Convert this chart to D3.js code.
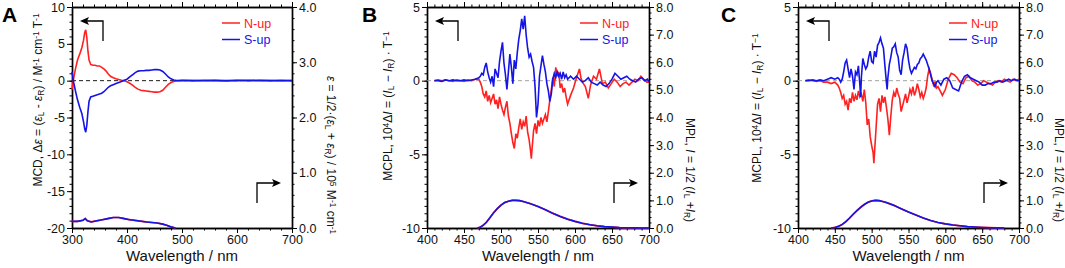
<!DOCTYPE html>
<html>
<head>
<meta charset="utf-8">
<script src="https://cdn.jsdelivr.net/npm/d3@7"></script>
<style>
  body { margin: 0; background: #fff; }
  svg { font-family: "Liberation Sans", Arial, sans-serif; }
</style>
</head>
<body>
<svg id="chart" width="1065" height="268"></svg>
<script>

// ---- panel A : MCD (left axis) and absorption (right axis) ----
var mcdN = [[300,-1.2],[303,0.3],[306,1.5],[310,2.8],[314,3.6],[318,4.5],[321,5.5],[323,6.5],[325,6.9],[327,5.8],[329,4.0],[331,2.8],[334,2.2],[338,2.1],[342,2.1],[346,2.0],[350,2.0],[354,1.8],[358,1.6],[362,1.3],[366,0.9],[370,0.6],[375,0.4],[380,0.25],[385,0.15],[390,0.05],[395,0],[400,-0.15],[405,-0.35],[410,-0.6],[415,-0.9],[420,-1.15],[425,-1.3],[430,-1.35],[435,-1.4],[440,-1.45],[445,-1.5],[450,-1.55],[455,-1.55],[460,-1.5],[465,-1.3],[470,-0.9],[475,-0.5],[480,-0.25],[485,-0.1],[490,-0.05],[500,0],[520,0],[540,-0.05],[560,0],[580,-0.05],[600,0],[620,0.05],[640,0],[660,0],[680,-0.05],[700,0]]
var mcdS = [[300,1.2],[303,-0.2],[306,-1.3],[310,-2.6],[314,-3.6],[318,-4.5],[321,-5.6],[323,-6.5],[325,-7.0],[327,-6.0],[329,-4.2],[331,-2.8],[334,-2.2],[338,-2.1],[342,-2.0],[346,-1.9],[350,-1.8],[354,-1.7],[358,-1.5],[362,-1.2],[366,-0.9],[370,-0.7],[375,-0.55],[380,-0.4],[385,-0.25],[390,-0.1],[395,0.05],[400,0.2],[405,0.5],[410,0.8],[415,1.1],[420,1.3],[425,1.35],[430,1.35],[435,1.4],[440,1.4],[445,1.45],[450,1.5],[455,1.5],[460,1.45],[465,1.25],[470,0.9],[475,0.5],[480,0.25],[485,0.1],[490,0.02],[500,0.05],[520,0],[540,0.05],[560,0.05],[580,0],[600,0.05],[620,0],[640,0.05],[660,0],[680,0.05],[700,0]]
var absA = [[300,0.12],[310,0.12],[320,0.14],[324,0.17],[328,0.13],[335,0.11],[345,0.13],[355,0.15],[365,0.17],[375,0.19],[385,0.19],[395,0.17],[405,0.15],[420,0.13],[435,0.11],[445,0.10],[455,0.09],[465,0.07],[472,0.05],[480,0.02],[488,0]]

// ---- panel B : MCPL (left axis) and MPL (right axis) ----
var mcplBN = [[410,0],[415,0.05],[420,0],[425,0.05],[430,0],[435,-0.05],[440,0.05],[445,0],[450,-0.05],[455,0.05],[460,0],[465,0.1],[470,0.1],[472,-0.1],[474,-0.4],[476,-0.9],[478,-1.1],[480,-0.7],[482,-1.4],[484,-1.0],[486,-1.5],[488,-1.2],[490,-0.9],[492,-1.6],[494,-1.3],[496,-1.9],[498,-1.1],[500,-1.6],[502,-2.0],[504,-2.3],[506,-1.8],[508,-1.4],[510,-2.4],[512,-2.9],[514,-3.6],[516,-4.2],[518,-4.6],[520,-3.6],[522,-3.9],[524,-3.2],[526,-2.6],[528,-3.3],[530,-2.8],[532,-3.1],[534,-2.4],[536,-3.5],[538,-4.0],[540,-4.8],[541,-5.3],[542,-4.6],[544,-3.4],[546,-2.9],[548,-3.6],[550,-2.7],[552,-3.1],[554,-2.5],[556,-2.9],[558,-2.6],[560,-2.3],[562,-2.8],[564,-2.1],[566,-1.3],[568,-0.6],[570,0.2],[572,-0.4],[574,0.9],[576,0.3],[578,0.6],[580,-0.5],[582,-0.2],[584,-0.8],[586,-0.5],[588,-1.1],[590,-1.6],[594,-1.0],[598,-0.5],[602,0.2],[606,0.8],[608,0.2],[610,-0.1],[614,-0.4],[618,-1.2],[621,-0.3],[625,0.3],[629,0.1],[633,0.8],[637,-0.2],[641,-0.1],[645,-0.5],[649,-0.2],[653,0.1],[657,-0.1],[661,-0.4],[665,-0.2],[669,-0.1],[673,-0.3],[677,-0.1],[681,0.1],[685,0],[689,0.3],[693,0.1],[697,-0.1],[700,-0.1]]
var mcplBS = [[410,0],[415,0],[420,-0.05],[425,0.05],[430,0],[435,0.05],[440,0],[445,0],[450,0.05],[455,0],[460,0.05],[465,0.1],[470,0.2],[472,0.3],[474,0.5],[476,0.4],[478,0.9],[480,1.2],[482,0.6],[484,0.2],[486,-0.1],[488,0.3],[490,-0.4],[492,0.8],[494,0.5],[496,0.2],[498,1.3],[500,2.0],[502,2.6],[504,1.2],[506,0.4],[508,-0.6],[510,0.6],[512,1.8],[514,0.9],[516,-0.2],[518,1.4],[520,0.8],[522,1.9],[524,2.8],[526,3.4],[528,4.2],[530,3.5],[532,4.4],[534,3.1],[536,2.2],[538,1.6],[540,1.8],[542,1.3],[544,0.9],[546,-0.4],[548,-2.5],[550,-1.6],[552,0.3],[554,1.0],[556,1.7],[558,1.1],[560,0.6],[562,-0.2],[564,-0.7],[566,-1.4],[568,-0.9],[570,0.1],[572,0.5],[574,0.2],[576,0.6],[578,0.3],[580,0.5],[582,0.1],[584,0.6],[586,0.2],[588,0.4],[590,0.1],[594,0.3],[598,0.1],[602,0.3],[606,0.1],[610,-0.1],[614,0],[618,0.2],[622,-0.1],[626,-0.2],[630,-0.3],[634,-0.1],[638,-0.3],[642,-0.4],[646,-0.2],[650,0.1],[654,0.5],[658,0.3],[662,0.1],[666,0.2],[670,0.3],[674,0.1],[678,0],[682,-0.1],[686,0.1],[690,0.2],[694,0],[698,0.1],[700,-0.1]]
var mplB = [[468,0],[472,0.03],[476,0.1],[480,0.2],[485,0.37],[490,0.55],[495,0.7],[500,0.83],[505,0.92],[510,0.97],[515,1.0],[520,1.0],[525,0.99],[530,0.96],[540,0.88],[550,0.78],[560,0.66],[570,0.53],[580,0.42],[590,0.32],[600,0.24],[610,0.17],[620,0.12],[630,0.08],[640,0.05],[650,0.03],[660,0.015],[670,0.008],[680,0.003],[690,0],[700,0]]

// ---- panel C ----
var mcplCN = [[410,0],[415,0.05],[420,0],[425,-0.05],[430,0],[435,-0.1],[440,-0.1],[445,-0.2],[450,-0.1],[454,-0.3],[456,-0.5],[458,-0.8],[460,-1.2],[462,-1.0],[464,-1.6],[466,-1.4],[468,-2.0],[470,-1.2],[472,-1.5],[474,-0.8],[476,-1.4],[478,-1.0],[480,-1.3],[482,-0.7],[484,-1.1],[486,-0.9],[488,-1.4],[490,-0.6],[492,-1.5],[494,-3.0],[496,-2.6],[498,-3.8],[500,-4.4],[502,-4.9],[503,-5.6],[504,-4.8],[506,-3.2],[508,-1.6],[510,-1.2],[512,-2.1],[514,-1.0],[516,-1.5],[518,-1.1],[520,-1.8],[522,-2.6],[524,-3.7],[526,-2.4],[528,-1.3],[530,-0.8],[532,-1.1],[534,-0.5],[536,-0.9],[538,-1.2],[540,-2.1],[542,-1.7],[544,-1.3],[546,-0.9],[548,-1.5],[550,-1.1],[552,-0.6],[554,-0.9],[556,-0.4],[558,-1.0],[560,-0.7],[562,-0.2],[564,-0.6],[566,-1.1],[568,-0.8],[570,-1.2],[572,-0.9],[574,-0.5],[576,0.3],[578,0.8],[580,0.5],[582,0.1],[584,-0.3],[586,-0.1],[588,-0.5],[590,-0.4],[594,-0.8],[596,-1.0],[600,-0.6],[604,0.1],[608,0.5],[612,0.4],[616,0.2],[620,-0.1],[624,-0.2],[628,0.2],[632,0.3],[636,0],[640,-0.1],[644,-0.3],[648,-0.2],[652,0],[656,-0.1],[660,-0.2],[664,-0.3],[668,-0.1],[672,0],[676,-0.1],[680,0.1],[684,0],[688,-0.1],[692,0.1],[696,0],[700,0.1]]
var mcplCS = [[410,0],[415,0],[420,0.05],[425,0],[430,0.05],[435,0],[440,0.1],[445,0.2],[450,0.1],[454,0.2],[456,0.1],[458,-0.1],[460,0.1],[462,0.6],[464,1.2],[466,1.4],[468,0.8],[470,0.2],[472,0.8],[474,0.3],[476,-0.6],[478,0.6],[480,0.4],[482,1.0],[484,-0.3],[485,-1.1],[486,0.2],[488,1.5],[490,1.1],[492,0.8],[494,1.0],[496,1.6],[498,2.0],[500,1.3],[502,1.2],[504,2.0],[506,1.6],[508,2.4],[510,2.6],[512,2.9],[514,2.5],[516,2.2],[518,1.0],[520,-0.1],[521,-0.6],[522,0.2],[524,1.1],[526,1.6],[528,2.2],[530,2.3],[532,2.5],[534,1.9],[536,1.6],[538,0.7],[540,0.4],[542,1.4],[544,1.9],[546,2.5],[548,2.2],[550,1.4],[552,0.8],[554,0.5],[556,0.7],[558,0.9],[560,0.8],[562,1.1],[564,1.2],[566,1.5],[568,1.6],[570,1.8],[572,1.6],[574,1.4],[576,1.1],[578,0.8],[580,0.4],[582,0],[584,-0.2],[586,-0.4],[588,-0.1],[590,0],[594,-0.3],[598,0.1],[602,0.2],[606,0],[610,-0.5],[614,-0.6],[618,-0.7],[622,-0.1],[626,0.3],[630,0.4],[634,0.2],[638,0.1],[642,0],[646,-0.1],[650,-0.3],[654,-0.3],[658,-0.2],[662,-0.2],[666,-0.1],[670,-0.1],[674,0],[678,-0.1],[682,0],[686,0.1],[690,0],[694,0.1],[698,0],[700,0]]
var mplC = [[445,0],[450,0.02],[455,0.06],[460,0.13],[465,0.23],[470,0.36],[475,0.5],[480,0.63],[485,0.75],[490,0.85],[495,0.93],[500,0.98],[505,1.0],[510,0.99],[515,0.96],[520,0.92],[530,0.82],[540,0.7],[550,0.58],[560,0.47],[570,0.36],[580,0.27],[590,0.2],[600,0.15],[610,0.11],[620,0.08],[630,0.05],[640,0.035],[650,0.02],[660,0.01],[670,0.005],[680,0]]

// tick values
var ticksXA = [300, 400, 500, 600, 700]
var ticksXB = [400, 450, 500, 550, 600, 650, 700]
var ticksYA = [-20, -15, -10, -5, 0, 5, 10]
var ticksYB = [-10, -5, 0, 5]
var ticksRA = [0, 1, 2, 3, 4]
var ticksRB = [0, 1, 2, 3, 4, 5, 6, 7, 8]
var legendNames = ["N-up", "S-up"]

var RED = "#ff2020", BLUE = "#1414e6"
var top_ = 7, bottom_ = 228
var svg = d3.select("#chart")

function rich(sel, parts) {
    parts.forEach(function (p) {
        var t = sel.append("tspan").text(p[0])
        if (p[1] == "sub") t.attr("baseline-shift", "-25%").attr("font-size", "0.7em")
        if (p[1] == "sup") t.attr("baseline-shift", "40%").attr("font-size", "0.7em")
        if (p[1] == "it") t.attr("font-style", "italic")
    })
}

function drawPanel(p) {
    var g = svg.append("g")
    var x = d3.scaleLinear().domain(p.xDomain).range([p.left, p.right])
    var y = d3.scaleLinear().domain(p.yDomain).range([bottom_, top_])
    var y2 = d3.scaleLinear().domain(p.y2Domain).range([bottom_, top_])

    var minorX = d3.range(p.xDomain[0], p.xDomain[1] + 0.01, p.xMinor)
    var minorY = d3.range(p.yDomain[0], p.yDomain[1] + 0.01, p.yMinor)
    var minorR = d3.range(p.y2Domain[0], p.y2Domain[1] + 0.01, 0.2)
    var fmt = function (d) { return String(d) }

    var axes = [
        [d3.axisBottom(x), `translate(0,${bottom_})`, p.xTicks, minorX, fmt],
        [d3.axisTop(x), `translate(0,${top_})`, p.xTicks, minorX, null],
        [d3.axisLeft(y), `translate(${p.left},0)`, p.yTicks, minorY, fmt],
        [d3.axisRight(y2), `translate(${p.right},0)`, p.y2Ticks, minorR, d3.format(".1f")]
    ]
    axes.forEach(function (a) {
        g.append("g").attr("transform", a[1])
            .call(a[0].tickValues(a[3]).tickSize(2.5).tickSizeOuter(0).tickFormat(""))
        var major = g.append("g").attr("transform", a[1])
            .call(a[0].tickValues(a[2]).tickSize(5).tickSizeOuter(0).tickPadding(2)
                .tickFormat(a[4] ? a[4] : ""))
        major.selectAll("text").attr("font-size", 12.5).attr("fill", "#111")
            .attr("font-family", '"Liberation Sans", Arial, sans-serif')
        g.selectAll(".domain").attr("stroke", "#000").attr("stroke-width", 1.4)
        g.selectAll(".tick line").attr("stroke", "#000").attr("stroke-width", 1)
    })

    // zero line
    g.append("line")
        .attr("x1", x(p.xDomain[0])).attr("x2", x(p.xDomain[1]))
        .attr("y1", y(0)).attr("y2", y(0))
        .attr("stroke", p.zeroColor).attr("stroke-width", 0.9)
        .attr("stroke-dasharray", "4,3")

    var line = d3.line().x(d => x(d[0])).y(d => y(d[1]))
    var line2 = d3.line().x(d => x(d[0])).y(d => y2(d[1]))

    g.append("path").datum(p.right2).attr("d", line2)
        .attr("fill", "none").attr("stroke", RED).attr("stroke-width", 1.7)
    g.append("path").datum(p.right2).attr("d", line2)
        .attr("fill", "none").attr("stroke", BLUE).attr("stroke-width", 1.6)
    g.append("path").datum(p.nup).attr("d", line)
        .attr("fill", "none").attr("stroke", RED).attr("stroke-width", 1.6)
    g.append("path").datum(p.sup).attr("d", line)
        .attr("fill", "none").attr("stroke", BLUE).attr("stroke-width", 1.6)

    // legend
    legendNames.forEach(function (name, i) {
        var ly = 23 + i * 16.5
        g.append("line").attr("x1", p.legX).attr("x2", p.legX + 18)
            .attr("y1", ly).attr("y2", ly)
            .attr("stroke", i == 0 ? RED : BLUE).attr("stroke-width", 1.5)
        g.append("text").attr("x", p.legX + 22).attr("y", ly + 4.5)
            .attr("font-size", 12.5).attr("fill", i == 0 ? RED : BLUE).text(name)
    })

    // direction arrows
    var ax0 = p.left + 8, ax1 = p.left + 31
    g.append("path").attr("d", `M${ax0 + 2},21 H${ax1} V41`)
        .attr("fill", "none").attr("stroke", "#000").attr("stroke-width", 1.3)
    g.append("path").attr("d", `M${ax0},21 l9,-4 l-2,4 l2,4 z`).attr("fill", "#000")
    var bx0 = p.right - 35, bx1 = p.right - 11
    g.append("path").attr("d", `M${bx0},203 V183 H${bx1 - 2}`)
        .attr("fill", "none").attr("stroke", "#000").attr("stroke-width", 1.3)
    g.append("path").attr("d", `M${bx1},183 l-9,-4 l2,4 l-2,4 z`).attr("fill", "#000")

    // axis titles
    g.append("text").attr("x", (p.left + p.right) / 2).attr("y", 261)
        .attr("text-anchor", "middle").attr("font-size", 15).attr("fill", "#111")
        .text("Wavelength / nm")
    var tl = g.append("text").attr("transform", `translate(${p.leftLab[0]},${p.leftLab[1]}) rotate(-90)`)
        .attr("text-anchor", "middle").attr("dy", "0.35em").attr("font-size", 12).attr("fill", "#111")
    rich(tl, p.leftTitle)
    var tr = g.append("text").attr("transform", `translate(${p.rightLab[0]},${p.rightLab[1]}) rotate(90)`)
        .attr("text-anchor", "middle").attr("dy", "0.35em").attr("font-size", 12).attr("fill", "#111")
    rich(tr, p.rightTitle)

    g.append("text").attr("x", p.letterX).attr("y", 22)
        .attr("font-size", 21).attr("font-weight", "bold").text(p.letter)
}

var mcplTitle = [["MCPL, 10"], ["4", "sup"], ["Δ"], ["I", "it"], [" = ("], ["I", "it"], ["L", "sub"], [" − "], ["I", "it"], ["R", "sub"], [") · T"], ["−1", "sup"]]
var mplTitle = [["MPL, "], ["I", "it"], [" = 1/2 ("], ["I", "it"], ["L", "sub"], [" +"], ["I", "it"], ["R", "sub"], [")"]]

drawPanel({
    letter: "A", letterX: 2, left: 72, right: 292,
    xDomain: [300, 700], xTicks: ticksXA, xMinor: 20,
    yDomain: [-20, 10], yTicks: ticksYA, yMinor: 1,
    y2Domain: [0, 4], y2Ticks: ticksRA,
    nup: mcdN, sup: mcdS, right2: absA, zeroColor: "#000", legX: 222,
    leftLab: [38, 100], rightLab: [331, 155],
    leftTitle: [["MCD, Δ"], ["ε", "it"], [" = ("], ["ε", "it"], ["L", "sub"], [" - "], ["ε", "it"], ["R", "sub"], [") / M"], ["-1", "sup"], [" cm"], ["-1", "sup"], [" T"], ["-1", "sup"]],
    rightTitle: [["ε", "it"], [" = 1/2·("], ["ε", "it"], ["L", "sub"], [" + "], ["ε", "it"], ["R", "sub"], [") / 10"], ["5", "sup"], [" M"], ["-1", "sup"], [" cm"], ["-1", "sup"]]
})

drawPanel({
    letter: "B", letterX: 362, left: 427, right: 649,
    xDomain: [400, 700], xTicks: ticksXB, xMinor: 10,
    yDomain: [-10, 5], yTicks: ticksYB, yMinor: 0.5,
    y2Domain: [0, 8], y2Ticks: ticksRB,
    nup: mcplBN, sup: mcplBS, right2: mplB, zeroColor: "#999", legX: 580,
    leftLab: [388, 106], rightLab: [690, 170],
    leftTitle: mcplTitle, rightTitle: mplTitle
})

drawPanel({
    letter: "C", letterX: 721, left: 798, right: 1019,
    xDomain: [400, 700], xTicks: ticksXB, xMinor: 10,
    yDomain: [-10, 5], yTicks: ticksYB, yMinor: 0.5,
    y2Domain: [0, 8], y2Ticks: ticksRB,
    nup: mcplCN, sup: mcplCS, right2: mplC, zeroColor: "#999", legX: 949,
    leftLab: [757, 108], rightLab: [1059, 170],
    leftTitle: mcplTitle, rightTitle: mplTitle
})
</script>
</body>
</html>
